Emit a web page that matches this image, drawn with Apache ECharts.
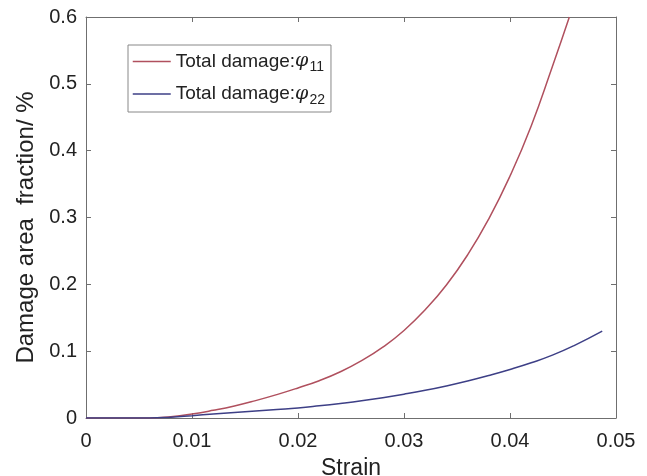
<html>
<head>
    <meta charset="utf-8">
    <title>Damage area fraction</title>
    <script src="https://cdn.jsdelivr.net/npm/echarts@6.0.0/dist/echarts.min.js"></script>
</head>
<body style="margin:0;background:#fff;">
    <div id="main" style="width: 647px; height: 476px;"></div>
    <script type="text/javascript">
        // data
        var strain11 = [0, 0.002, 0.004, 0.006, 0.008, 0.010, 0.012, 0.014, 0.016, 0.018, 0.020, 0.022, 0.024, 0.026, 0.028, 0.030, 0.032, 0.034, 0.036, 0.038, 0.040, 0.042, 0.044, 0.0456];
        var phi11    = [0, 0, 0, 0, 0.002, 0.006, 0.0115, 0.018, 0.026, 0.035, 0.045, 0.0558, 0.0692, 0.0858, 0.106, 0.131, 0.162, 0.199, 0.244, 0.298, 0.362, 0.437, 0.526, 0.600];
        var strain22 = [0, 0.002, 0.004, 0.006, 0.008, 0.010, 0.012, 0.014, 0.016, 0.018, 0.020, 0.022, 0.024, 0.026, 0.028, 0.030, 0.032, 0.034, 0.036, 0.038, 0.040, 0.042, 0.044, 0.046, 0.0487];
        var phi22    = [0, 0, 0, 0, 0.0012, 0.0035, 0.006, 0.0083, 0.0105, 0.0127, 0.015, 0.0182, 0.0218, 0.0258, 0.0304, 0.0356, 0.0414, 0.048, 0.0554, 0.0636, 0.0726, 0.0826, 0.094, 0.108, 0.130];
        var seriesNames = ['phi11', 'phi22'];
        var seriesColors = ['#b0505e', '#3d3f86'];

        function pairs(xs, ys) {
            var out = [];
            for (var i = 0; i < xs.length; i++) out.push([xs[i], ys[i]]);
            return out;
        }

        var font = 'Liberation Sans, Arial, sans-serif';
        var axisGrey = '#6f6f6f';
        var chart = echarts.init(document.getElementById('main'));

        // box axes (top / right) only carry ticks
        function boxAxis(pos, max, interval) {
            return {
                type: 'value',
                position: pos,
                min: 0,
                max: max,
                interval: interval,
                axisLine: { show: true, onZero: false, lineStyle: { color: axisGrey } },
                axisTick: { show: true, inside: true, length: 5, lineStyle: { color: axisGrey } },
                axisLabel: { show: false },
                splitLine: { show: false }
            };
        }

        var legendData = seriesNames.map(function (n, i) {
            return { name: n, lineStyle: { color: seriesColors[i], width: 1.5 } };
        });

        var option = {
            animation: false,
            textStyle: { fontFamily: font },
            grid: { left: 86, right: 31, top: 17, bottom: 58, outerBoundsMode: 'none', containLabel: false },
            legend: {
                orient: 'vertical',
                left: 128,
                top: 45,
                padding: [7, 6, 5, 4],
                itemGap: 10,
                itemWidth: 38,
                itemHeight: 12,
                itemStyle: { opacity: 0 },
                borderColor: '#888',
                borderWidth: 1,
                data: legendData,
                formatter: function (name) {
                    return '{t|Total damage:}{p|φ}{s|' + name.slice(3) + '}';
                },
                textStyle: {
                    color: '#222',
                    rich: {
                        t: { fontSize: 19, fontFamily: font, color: '#222' },
                        p: { fontSize: 19, fontStyle: 'italic', fontFamily: 'DejaVu Serif', color: '#222' },
                        s: { fontSize: 14, fontFamily: font, color: '#222', verticalAlign: 'top', padding: [12, 0, 0, 1] }
                    }
                }
            },
            xAxis: [{
                type: 'value',
                min: 0,
                max: 0.05,
                interval: 0.01,
                name: 'Strain',
                nameLocation: 'middle',
                nameGap: 39,
                nameTextStyle: { fontSize: 23, color: '#222' },
                axisLine: { onZero: false, lineStyle: { color: axisGrey } },
                axisTick: { inside: true, length: 5, lineStyle: { color: axisGrey } },
                axisLabel: { fontSize: 20, color: '#222', margin: 13 },
                splitLine: { show: false }
            }, boxAxis('top', 0.05, 0.01)],
            yAxis: [{
                type: 'value',
                min: 0,
                max: 0.6,
                interval: 0.1,
                name: 'Damage area  fraction/ %',
                nameLocation: 'middle',
                nameGap: 47,
                nameTextStyle: { fontSize: 24, color: '#222', padding: [0, 20, 0, 0] },
                axisLine: { show: true, onZero: false, lineStyle: { color: axisGrey } },
                axisTick: { show: true, inside: true, length: 5, lineStyle: { color: axisGrey } },
                axisLabel: { fontSize: 20, color: '#222', margin: 9 },
                splitLine: { show: false }
            }, boxAxis('right', 0.6, 0.1)],
            series: [{
                name: seriesNames[0],
                type: 'line',
                smooth: true,
                symbol: 'none',
                lineStyle: { color: seriesColors[0], width: 1.5 },
                itemStyle: { color: seriesColors[0] },
                data: pairs(strain11, phi11)
            }, {
                name: seriesNames[1],
                type: 'line',
                smooth: true,
                symbol: 'none',
                lineStyle: { color: seriesColors[1], width: 1.5 },
                itemStyle: { color: seriesColors[1] },
                data: pairs(strain22, phi22)
            }]
        };
        chart.setOption(option);
    </script>
</body>
</html>
